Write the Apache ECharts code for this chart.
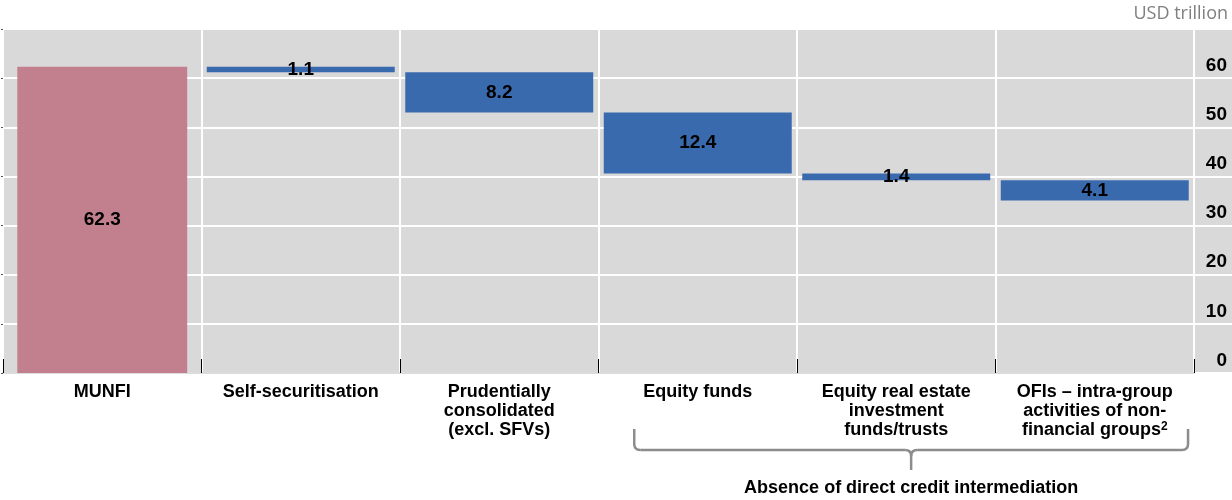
<!DOCTYPE html>
<html>
<head>
<meta charset="utf-8">
<script src="https://cdn.jsdelivr.net/npm/echarts@6/dist/echarts.min.js"></script>
<style>
html,body{margin:0;padding:0;background:#fff;}
#c{width:1232px;height:500px;}
</style>
</head>
<body>
<div id="c"></div>
<script>
// ---- data ----
var categories = [
  'MUNFI',
  'Self-securitisation',
  'Prudentially\nconsolidated\n(excl. SFVs)',
  'Equity funds',
  'Equity real estate\ninvestment\nfunds/trusts',
  'OFIs – intra-group\nactivities of non-\nfinancial groups{sup|2}'
];
var values = [62.3, 1.1, 8.2, 12.4, 1.4, 4.1];
var isTotal = [true, false, false, false, false, false];
var yTicks = [0, 10, 20, 30, 40, 50, 60, 70];
var unitLabel = 'USD trillion';
var bracketLabel = 'Absence of direct credit intermediation';

// build waterfall rows [index, low, high, value, isTotal]
var rows = [];
var level = 0;
for (var i = 0; i < values.length; i++) {
  if (isTotal[i]) { rows.push([i, 0, values[i], values[i], 1]); level = values[i]; }
  else { var lo = level - values[i]; rows.push([i, lo, level, values[i], 0]); level = lo; }
}

var FONT = '"Liberation Sans", Arial, sans-serif';
var chart = echarts.init(document.getElementById('c'), null, {renderer: 'canvas'});

var option = {
  animation: false,
  backgroundColor: '#ffffff',
  textStyle: {fontFamily: FONT},
  grid: [
    {left: 3, width: 1191, top: 29, bottom: 127, show: true, backgroundColor: '#d9d9d9', borderWidth: 0},
    {left: 1194, right: 0, top: 29, bottom: 127, show: true, backgroundColor: '#d9d9d9', borderWidth: 0}
  ],
  xAxis: [
    {
      type: 'category', gridIndex: 0, data: categories, boundaryGap: true,
      axisLine: {show: true, lineStyle: {color: '#dcdcdc', width: 2}},
      axisTick: {show: true, inside: true, length: 14, lineStyle: {color: '#000', width: 1}},
      splitLine: {show: true, lineStyle: {color: '#ffffff', width: 2}},
      axisLabel: {
        interval: 0, margin: 10, color: '#000', fontFamily: FONT, fontWeight: 'bold',
        fontSize: 18, lineHeight: 19, align: 'center',
        rich: {sup: {fontSize: 12, fontWeight: 'bold', fontFamily: FONT, color: '#000', verticalAlign: 'top', lineHeight: 19, padding: [0, 0, 9, 0]}}
      }
    },
    {type: 'value', gridIndex: 1, show: false, min: 0, max: 1}
  ],
  yAxis: [
    {
      type: 'value', gridIndex: 0, min: 0, max: 70, interval: 10, position: 'left',
      axisLine: {show: false},
      axisTick: {show: true, length: 2, lineStyle: {color: '#555'}},
      axisLabel: {show: false},
      splitLine: {show: true, lineStyle: {color: '#ffffff', width: 2}}
    },
    {
      type: 'value', gridIndex: 1, min: 0, max: 70, interval: 10, position: 'left',
      axisLine: {show: false},
      axisTick: {show: false},
      splitLine: {show: true, lineStyle: {color: '#ffffff', width: 2}},
      axisLabel: {
        show: true, inside: true, margin: 33, align: 'right', verticalAlign: 'bottom',
        padding: [0, 0, 3, 0],
        color: '#000', fontFamily: FONT, fontWeight: 'bold', fontSize: 19,
        formatter: function (v) { return (v >= 70) ? '' : String(v); }
      }
    }
  ],
  series: [{
    type: 'custom',
    xAxisIndex: 0, yAxisIndex: 0,
    data: rows,
    encode: {x: 0, y: [1, 2]},
    renderItem: function (params, api) {
      var idx = api.value(0);
      var top = api.coord([idx, api.value(2)]);
      var bot = api.coord([idx, api.value(1)]);
      var band = api.size([1, 0])[0];
      var total = api.value(4) === 1;
      var w = band * (total ? 0.856 : 0.947);
      var color = total ? '#c27f8e' : '#3a6aae';
      var val = api.value(3);
      return {
        type: 'group',
        children: [
          {type: 'rect', shape: {x: top[0] - w / 2, y: top[1], width: w, height: bot[1] - top[1]},
           style: {fill: color}},
          {type: 'text', style: {
            x: top[0], y: (top[1] + bot[1]) / 2, text: val.toFixed(1),
            align: 'center', verticalAlign: 'middle',
            font: 'bold 19px ' + FONT, fill: '#000'
          }, z2: 10}
        ]
      };
    }
  }],
  graphic: []
};
chart.setOption(option);

// bracket annotation tied to category positions
var c3 = chart.convertToPixel({xAxisIndex: 0}, 3);
var c5 = chart.convertToPixel({xAxisIndex: 0}, 5);
var bw = chart.convertToPixel({xAxisIndex: 0}, 1) - chart.convertToPixel({xAxisIndex: 0}, 0);
var xl = c3 - 0.32 * bw;
var xr = c5 + 0.47 * bw;
var xm = (xl + xr) / 2;
var yt = 429, yh = 450, yb = 470, r = 6;
var bstyle = {stroke: '#8c8c8c', lineWidth: 2.5, fill: null};
function seg(x1, y1, x2, y2) { return {type: 'line', shape: {x1: x1, y1: y1, x2: x2, y2: y2}, style: bstyle}; }
function crv(x1, y1, cx, cy, x2, y2) { return {type: 'bezierCurve', shape: {x1: x1, y1: y1, x2: x2, y2: y2, cpx1: cx, cpy1: cy}, style: bstyle}; }

chart.setOption({
  graphic: [
    seg(xl, yt, xl, yh - r),
    crv(xl, yh - r, xl, yh, xl + r, yh),
    seg(xl + r, yh, xm - r, yh),
    crv(xm - r, yh, xm, yh, xm, yh + r),
    seg(xm, yh + r, xm, yb),
    crv(xm, yh + r, xm, yh, xm + r, yh),
    seg(xm + r, yh, xr - r, yh),
    crv(xr - r, yh, xr, yh, xr, yh - r),
    seg(xr, yh - r, xr, yt),
    {type: 'text', x: xm, y: 488, style: {text: bracketLabel, align: 'center', verticalAlign: 'middle',
      font: 'bold 18px ' + FONT, fill: '#000'}},
    {type: 'text', right: 4, top: 5, style: {text: unitLabel, font: '18px "Open Sans", "Noto Sans", sans-serif', fill: '#7f7f7f'}}
  ]
});
</script>
</body>
</html>
